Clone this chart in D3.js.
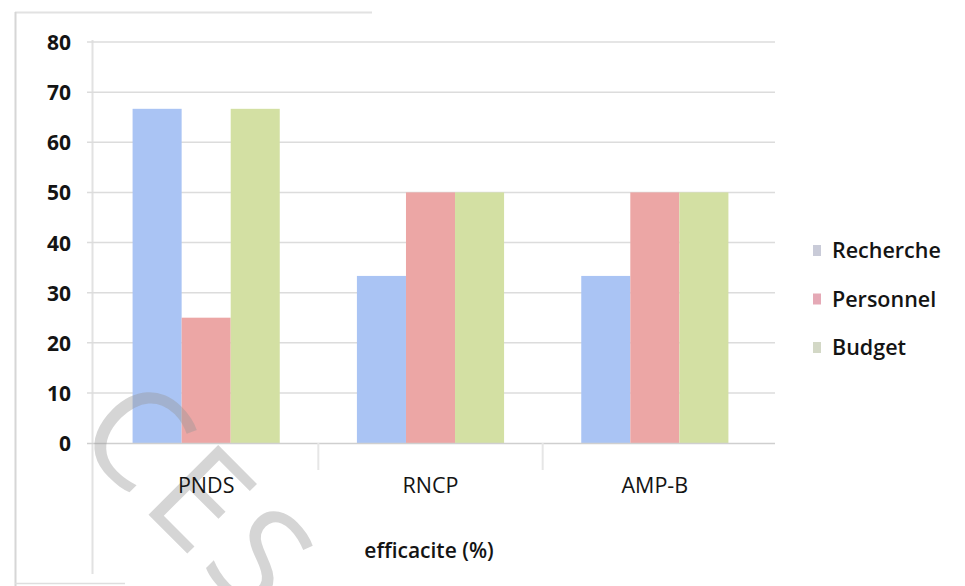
<!DOCTYPE html>
<html>
<head>
<meta charset="utf-8">
<script src="https://cdn.jsdelivr.net/npm/d3@7"></script>
<style>
  html, body { margin: 0; padding: 0; background: #ffffff; }
  svg { display: block; }
</style>
</head>
<body>
<svg id="chart" width="965" height="586"></svg>
<script>
// Efficacité par programme (%)
const categories = ["PNDS", "RNCP", "AMP-B"];
const seriesNames = ["Recherche", "Personnel", "Budget"];
const recherche = [66.67, 33.33, 33.33];
const personnel = [25, 50, 50];
const budget = [66.67, 50, 50];
const yTicks = [0, 10, 20, 30, 40, 50, 60, 70, 80];
const axisTitle = "efficacite (%)";
const watermark = "CES";

const seriesValues = [recherche, personnel, budget];
const colors = ["#aac4f4", "#eca6a5", "#d3e0a3"];
const legendSwatch = ["#c9cbd8", "#e5a9b6", "#d3d8c6"];

const svg = d3.select("#chart");
const font = "'Open Sans', 'Noto Sans', sans-serif";
const ink = "#141414";

const plot = { left: 92, right: 775, top: 42, bottom: 443 };

const x0 = d3.scaleBand()
  .domain(categories)
  .range([94, 767])
  .paddingInner(0.344)
  .paddingOuter(0.172);

const x1 = d3.scaleBand()
  .domain(seriesNames)
  .range([0, x0.bandwidth()]);

const y = d3.scaleLinear().domain([0, 80]).range([plot.bottom, plot.top]);

// Outer frame of the chart
const frame = svg.append("g").attr("fill", "none");
frame.append("line").attr("x1", 15).attr("x2", 372).attr("y1", 12.5).attr("y2", 12.5)
  .attr("stroke", "#e2e2e2").attr("stroke-width", 2);
frame.append("line").attr("x1", 15.5).attr("x2", 15.5).attr("y1", 12).attr("y2", 586)
  .attr("stroke", "#d6d6d6").attr("stroke-width", 2);
frame.append("line").attr("x1", 15).attr("x2", 125).attr("y1", 583.5).attr("y2", 583.5)
  .attr("stroke", "#dedede").attr("stroke-width", 1.5);
frame.append("line").attr("x1", 92.5).attr("x2", 92.5).attr("y1", 40).attr("y2", 574)
  .attr("stroke", "#e2e2e2").attr("stroke-width", 2);

// Horizontal gridlines (with short ticks left of the axis)
svg.append("g")
  .selectAll("line")
  .data(yTicks.filter(d => d > 0))
  .join("line")
  .attr("x1", 87)
  .attr("x2", plot.right)
  .attr("y1", d => y(d))
  .attr("y2", d => y(d))
  .attr("stroke", "#dcdcdc")
  .attr("stroke-width", 1.5);

// Y axis labels
const yAxis = d3.axisLeft(y).tickValues(yTicks).tickSize(0).tickPadding(0);
const yG = svg.append("g").attr("transform", "translate(71,0)").call(yAxis);
yG.select(".domain").remove();
yG.selectAll("text")
  .attr("font-family", font)
  .attr("font-size", 21)
  .attr("font-weight", 700)
  .attr("fill", ink)
  .attr("dy", "0.36em");

// Bars
const groups = svg.append("g")
  .selectAll("g")
  .data(categories)
  .join("g")
  .attr("transform", d => `translate(${x0(d)},0)`);

groups.selectAll("rect")
  .data((c, i) => seriesNames.map((s, j) => ({ s, j, v: seriesValues[j][i] })))
  .join("rect")
  .attr("x", d => x1(d.s))
  .attr("width", x1.bandwidth())
  .attr("y", d => y(d.v))
  .attr("height", d => y(0) - y(d.v))
  .attr("fill", d => colors[d.j]);

// X axis baseline and category separators
svg.append("line")
  .attr("x1", 87).attr("x2", plot.right)
  .attr("y1", plot.bottom + 0.5).attr("y2", plot.bottom + 0.5)
  .attr("stroke", "#cfcfcf").attr("stroke-width", 1.5);

svg.append("g")
  .selectAll("line")
  .data(categories.slice(1))
  .join("line")
  .attr("x1", d => x0(d) - x0.step() * x0.paddingInner() / 2)
  .attr("x2", d => x0(d) - x0.step() * x0.paddingInner() / 2)
  .attr("y1", plot.bottom)
  .attr("y2", 470)
  .attr("stroke", "#e6e6e6")
  .attr("stroke-width", 2);

// Diagonal watermark (drawn beneath the text labels)
svg.append("text")
  .attr("transform", "translate(110,400) rotate(45)")
  .attr("font-family", font)
  .attr("font-size", 138)
  .attr("font-weight", 500)
  .attr("letter-spacing", 8)
  .attr("fill", "rgba(150,150,150,0.4)")
  .attr("dominant-baseline", "central")
  .text(watermark);

const xAxis = d3.axisBottom(x0).tickSize(0).tickPadding(0);
const xG = svg.append("g").attr("transform", "translate(0,493)").call(xAxis);
xG.select(".domain").remove();
xG.selectAll("text")
  .attr("font-family", font)
  .attr("font-size", 21.5)
  .attr("font-weight", 500)
  .attr("fill", ink)
  .attr("dy", 0);

// Axis title
svg.append("text")
  .attr("x", 429)
  .attr("y", 558)
  .attr("text-anchor", "middle")
  .attr("font-family", font)
  .attr("font-size", 21)
  .attr("font-weight", 600)
  .attr("fill", ink)
  .text(axisTitle);

// Legend
const legend = svg.append("g")
  .selectAll("g")
  .data(seriesNames)
  .join("g")
  .attr("transform", (d, i) => `translate(813,${258 + i * 48.5})`);

legend.append("rect")
  .attr("x", 0).attr("y", -13)
  .attr("width", 8).attr("height", 11)
  .attr("fill", (d, i) => legendSwatch[i]);

legend.append("text")
  .attr("x", 19)
  .attr("y", 0)
  .attr("font-family", font)
  .attr("font-size", 21.5)
  .attr("font-weight", 600)
  .attr("fill", ink)
  .text(d => d);
</script>
</body>
</html>
